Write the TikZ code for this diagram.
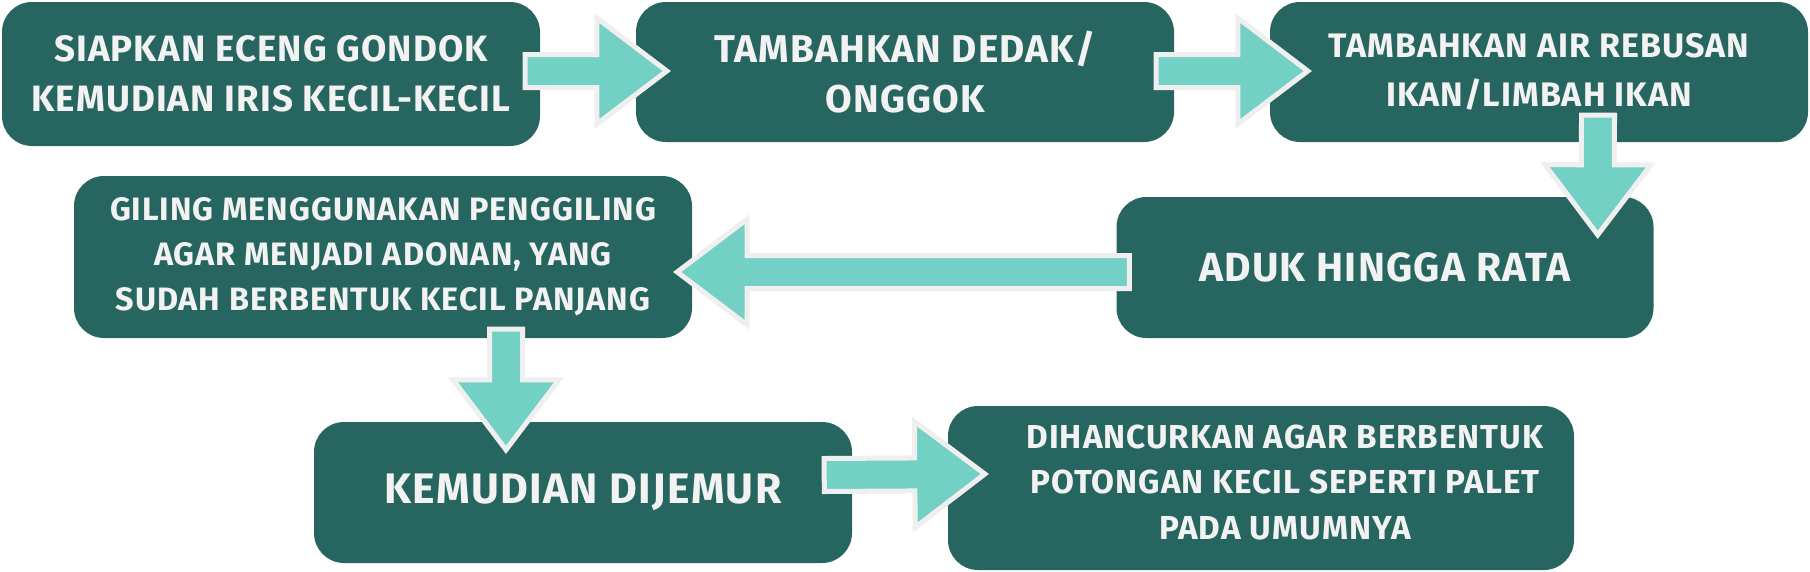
\documentclass[tikz,border=0pt]{standalone}
\usepackage{fontspec}
\setmainfont{Fira Sans}[LetterSpace=3]
\usepackage{tikz}
\usetikzlibrary{calc}

\definecolor{kotak}{HTML}{276660}
\definecolor{panah}{HTML}{72D1C4}
\definecolor{tepi}{HTML}{EFEFEF}
\definecolor{tulisan}{HTML}{F2F2F2}

\tikzset{
  langkah/.style={fill=kotak, rounded corners=30pt, inner sep=0pt,
    text=tulisan, align=center, font=\bfseries},
  pfeil/.style={fill=panah, draw=tepi, line width=5pt, line join=miter},
}

% block arrow from #1 to #2
\newcommand{\pfeil}[2]{%
  \coordinate (pa) at (#1);
  \coordinate (pe) at (#2);
  \coordinate (pb) at ($(pe)!70pt!(pa)$);
  \draw[pfeil] ($(pa)!16.5pt!90:(pe)$) -- ($(pb)!16.5pt!-90:(pa)$)
    -- ($(pb)!53pt!-90:(pa)$) -- (pe) -- ($(pb)!53pt!90:(pa)$)
    -- ($(pb)!16.5pt!90:(pa)$) -- ($(pa)!16.5pt!-90:(pe)$) -- cycle;
}

\begin{document}
\begin{tikzpicture}[x=1pt, y=-1pt]
  \useasboundingbox (0,0) rectangle (1810,571);

  % Kotak
  \node[langkah, minimum width=538, minimum height=144,
        font=\bfseries\fontsize{36.7}{50}\selectfont] (s1) at (271,74)
    {SIAPKAN ECENG GONDOK\\KEMUDIAN IRIS KECIL-KECIL};
  \node[langkah, minimum width=538, minimum height=140,
        font=\bfseries\fontsize{38.7}{50}\selectfont] (s2) at (905,72)
    {TAMBAHKAN DEDAK/\\ONGGOK};
  \node[langkah, minimum width=538, minimum height=140,
        font=\bfseries\fontsize{34}{49}\selectfont] (s3) at (1539,72)
    {TAMBAHKAN AIR REBUSAN\\IKAN/LIMBAH IKAN};
  \node[langkah, minimum width=537, minimum height=141,
        font=\bfseries\fontsize{40.7}{45}\selectfont] (s4) at (1385,267.5)
    {ADUK HINGGA RATA};
  \node[langkah, minimum width=618, minimum height=162,
        font=\bfseries\fontsize{32.4}{45}\selectfont] (s5) at (383,257)
    {GILING MENGGUNAKAN PENGGILING\\AGAR MENJADI ADONAN, YANG\\SUDAH BERBENTUK KECIL PANJANG};
  \node[langkah, minimum width=538, minimum height=141,
        font=\bfseries\fontsize{42.7}{45}\selectfont] (s6) at (583,492.5)
    {KEMUDIAN DIJEMUR};
  \node[langkah, minimum width=626, minimum height=164] (s7) at (1261,488) {};
  \node[text=tulisan, align=center, font=\bfseries\fontsize{33.2}{45.5}\selectfont]
    (t7) at ($(s7)+(24,-6)$)
    {DIHANCURKAN AGAR BERBENTUK\\POTONGAN KECIL SEPERTI PALET\\PADA UMUMNYA};

  % Panah
  \pfeil{$(s1.east)+(-15,-3)$}{$(s2.west)+(31,-1)$}
  \pfeil{$(s2.east)+(-18,-1)$}{$(s3.west)+(38,-1)$}
  \pfeil{$(s3.south)+(59,-27)$}{$(s4.north east)+(-56,38)$}
  \pfeil{$(s4.west)+(13,4.5)$}{$(s5.east)+(-15,15)$}
  \pfeil{$(s5.south)+(123,-9)$}{$(s6.north)+(-77,28)$}
  \pfeil{$(s6.east)+(-28,-17.5)$}{$(s7.west)+(37,-14)$}

\end{tikzpicture}
\end{document}
